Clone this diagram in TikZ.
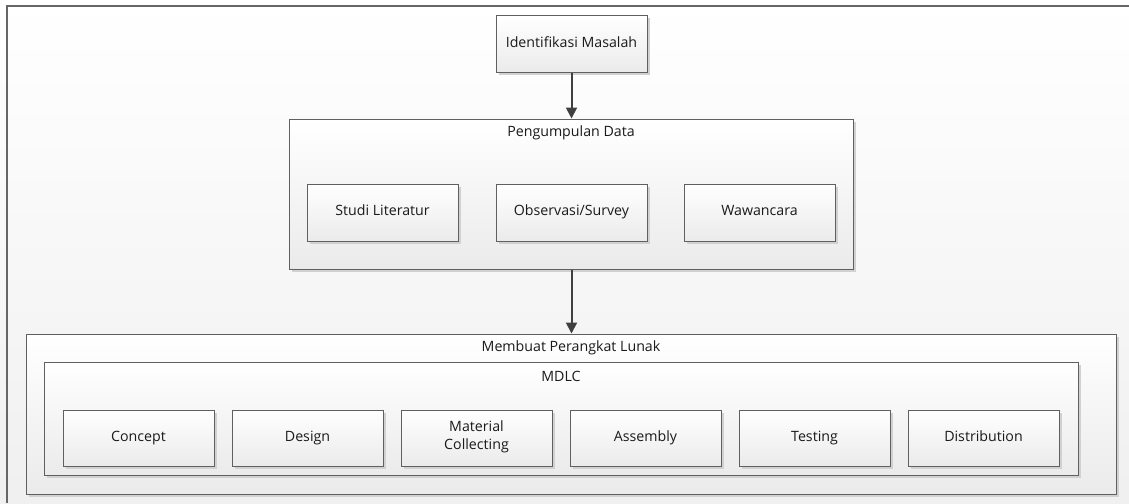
\documentclass[tikz,border=0pt]{standalone}
\usepackage{fontspec}
\setmainfont{Open Sans}
\usetikzlibrary{shadows,arrows.meta}
\definecolor{bordercol}{HTML}{606060}
\definecolor{textcol}{HTML}{1A1A1A}
\tikzset{
  box/.style={draw=bordercol, line width=1pt, top color=white, bottom color=black!8,
    drop shadow={shadow xshift=2.5pt, shadow yshift=-2.5pt, fill=black!18, opacity=1},
    text=textcol, font=\fontsize{14.2}{17}\selectfont, align=center, inner sep=0pt},
  stepbox/.style={box, minimum width=151pt, minimum height=56pt, execute at begin node=\strut},
  lbl/.style={text=textcol, font=\fontsize{14.2}{17}\selectfont, inner sep=0pt},
  flow/.style={draw=black!75, line width=2pt, -{Triangle[length=11pt,width=11pt]}},
}
\begin{document}
\begin{tikzpicture}[x=1pt,y=-1pt]
\useasboundingbox (0,0) rectangle (1129,503);
\fill[top color=white, bottom color=black!6] (0,0) rectangle (1129,503);
\draw[black!60, line width=1.5pt] (7,503) -- (7,6) -- (1129,6);
% top
\node[stepbox] (idm) at (571.5,44) {Identifikasi Masalah};
% data collection
\node[box, minimum width=564pt, minimum height=150pt] (pd) at (571,194) {};
\node[lbl] (pdl) at (571,133) {Pengumpulan Data};
\node[stepbox, minimum height=57pt] (stud) at (382.5,212.5) {Studi Literatur};
\node[stepbox, minimum height=57pt] (obs) at (571.5,212.5) {Observasi/Survey};
\node[stepbox, minimum height=57pt] (waw) at (759.5,212.5) {Wawancara};
% software
\node[box, minimum width=1090pt, minimum height=160pt] (mpl) at (571,414) {};
\node[lbl] (mpll) at (571,348) {Membuat Perangkat Lunak};
\node[box, minimum width=1034pt, minimum height=113pt] (mdlc) at (561,418.5) {};
\node[lbl] (mdlcl) at (561,376) {MDLC};
\node[stepbox] (s1) at (138.5,438) {Concept};
\node[stepbox] (s2) at (307.5,438) {Design};
\node[stepbox] (s3) at (476.5,438) {Material\\[1pt]Collecting};
\node[stepbox] (s4) at (645.5,438) {Assembly};
\node[stepbox] (s5) at (814.5,438) {Testing};
\node[stepbox] (s6) at (983.5,438) {Distribution};
% arrows
\draw[flow] (idm.south) -- (idm.south |- pd.north);
\draw[flow] (idm.south |- pd.south) -- (idm.south |- mpl.north);
\end{tikzpicture}
\end{document}
